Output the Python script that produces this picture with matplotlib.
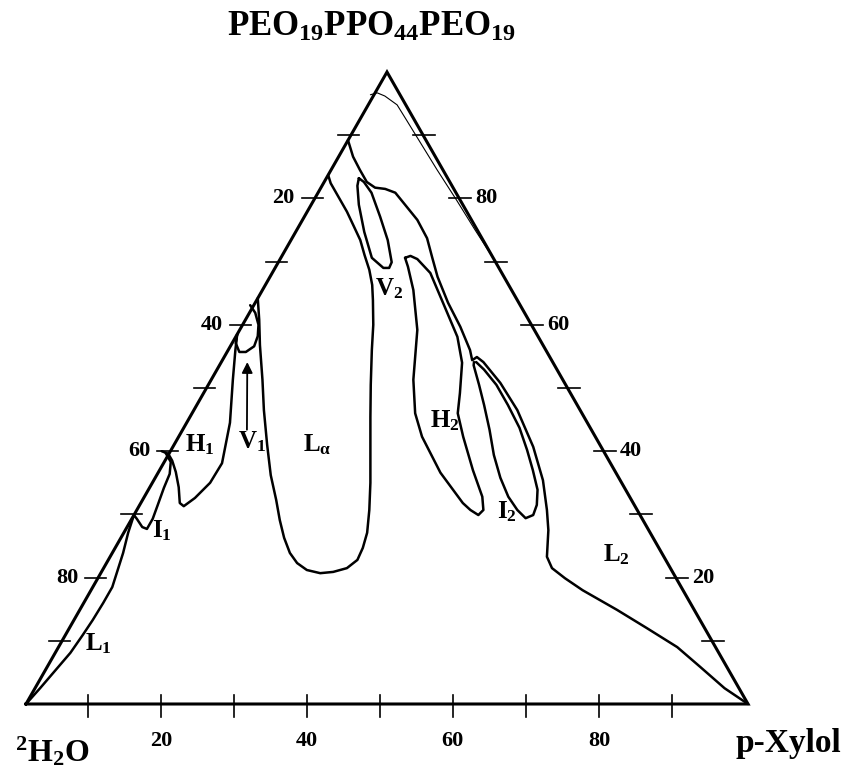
import matplotlib.pyplot as plt

plt.rcParams['font.family'] = ['Liberation Serif', 'DejaVu Serif']
plt.rcParams['font.weight'] = 'bold'
plt.rcParams['mathtext.fontset'] = 'custom'
plt.rcParams['mathtext.rm'] = 'Liberation Serif:bold'
plt.rcParams['mathtext.it'] = 'Liberation Serif:bold'
plt.rcParams['mathtext.bf'] = 'Liberation Serif:bold'

# compositions in wt%: peo = PEO19PPO44PEO19, xyl = p-Xylol, water = rest

# thin line close to the polymer / xylol side
thin_peo = [96.4, 96.7, 96.2, 94.8, 92.4, 89.7, 84.5, 79.7, 75.0, 70.3]
thin_xyl = [-0.5, 0.3, 1.6, 4.0, 6.5, 9.3, 14.7, 19.8, 24.7, 29.7]

# boundary from the polymer side down to the xylol corner (L2 border)
outer_peo = [89.2, 86.6, 84.5, 82.6, 81.7, 81.5, 80.9, 79.0, 76.6, 73.7,
             70.7, 67.6, 63.5, 59.7, 56.0, 54.4, 54.9, 54.1, 50.8, 46.5,
             40.7, 35.4, 30.7, 27.5, 23.3, 21.5, 19.9, 18.0, 14.9, 12.0,
             9.0, 5.9, 2.5, 0.0]
outer_xyl = [0.0, 2.0, 4.0, 5.9, 7.5, 9.0, 10.7, 13.0, 15.9, 18.7,
             20.9, 23.2, 26.7, 30.3, 33.5, 34.6, 35.0, 36.3, 40.3, 44.8,
             49.9, 53.9, 56.8, 58.6, 60.5, 62.1, 64.7, 68.1, 74.4, 80.0,
             85.7, 90.4, 95.5, 100.0]

# I2 loop
i2_peo = [54.1, 53.6, 50.5, 47.3, 43.4, 39.4, 35.8, 32.8, 30.7, 29.4,
          29.9, 31.5, 33.9, 37.0, 40.2, 43.7, 47.3, 50.5, 52.9, 54.1]
i2_xyl = [35.0, 35.2, 37.5, 39.8, 42.5, 45.1, 47.8, 50.4, 52.7, 54.5,
          55.3, 55.0, 53.9, 51.7, 49.3, 46.5, 43.1, 39.9, 37.0, 35.3]

# H2 loop
h2_peo = [70.6, 70.9, 70.4, 68.2, 63.5, 58.1, 54.0, 49.2, 46.0, 42.3,
          37.0, 32.8, 30.7, 29.9, 30.7, 31.8, 36.6, 42.3, 46.0, 51.3,
          59.2, 65.5, 69.2]
h2_xyl = [17.2, 17.8, 19.0, 21.9, 26.0, 30.7, 33.4, 35.5, 36.8, 39.4,
          43.4, 46.8, 48.0, 47.7, 46.2, 44.6, 39.1, 33.7, 30.9, 28.0,
          24.6, 20.9, 18.3]

# V2 loop
v2_peo = [83.2, 82.6, 80.9, 77.1, 73.4, 69.9, 69.0, 69.0, 70.6, 74.7, 79.0, 82.0]
v2_xyl = [4.5, 5.5, 7.4, 10.5, 13.4, 15.7, 15.8, 15.0, 12.6, 9.5, 6.6, 4.9]

# L_alpha region
la_peo = [83.7, 82.4, 81.3, 79.6, 77.9, 75.6, 73.4, 71.0, 68.7, 66.3,
          63.9, 60.0, 56.0, 50.5, 45.4, 40.2, 35.0, 30.7, 27.1, 24.7,
          22.8, 21.5, 20.9, 20.7, 21.2, 22.3, 23.9, 26.3, 29.1, 32.3,
          36.2, 41.0, 46.5, 51.3, 56.8, 60.8, 64.2]
la_xyl = [0.0, 1.0, 2.1, 3.8, 5.5, 7.6, 9.6, 11.4, 13.2, 14.8,
          16.1, 18.1, 19.9, 22.5, 25.0, 27.6, 30.2, 32.2, 33.7, 34.3,
          34.5, 33.7, 32.1, 30.4, 28.3, 26.4, 24.6, 22.6, 20.6, 18.5,
          15.8, 12.9, 9.7, 7.1, 4.0, 1.9, 0.0]

# V1 loop
v1_peo = [63.1, 61.9, 60.0, 58.2, 56.6, 55.7, 55.7, 57.1, 58.5]
v1_xyl = [-0.5, 0.8, 2.2, 3.0, 3.3, 2.6, 1.7, 0.5, 0.0]

# H1 region
h1_peo = [58.5, 56.0, 51.3, 44.5, 38.1, 35.0, 32.6, 31.3, 31.8, 34.3, 36.7, 38.5, 39.6, 40.0]
h1_xyl = [0.0, 1.0, 3.0, 6.0, 8.1, 8.0, 7.1, 6.2, 5.4, 4.0, 2.4, 1.0, -0.1, -1.2]

# I1 and L1 border down to the water corner
il_peo = [39.7, 38.3, 36.4, 34.2, 31.5, 29.3, 27.7, 28.0, 29.3, 29.9,
          27.1, 23.9, 21.2, 18.5, 16.0, 13.3, 10.9, 8.1, 4.9, 2.5, 0.0]
il_xyl = [-0.5, 0.9, 1.7, 2.0, 2.5, 2.9, 2.9, 2.1, 0.7, 0.0,
          0.6, 1.5, 2.1, 2.7, 2.7, 2.6, 2.4, 2.1, 1.3, 0.7, 0.0]

# arrow in V1 (tail, tip)
arrow_peo = [43.4, 54.1]
arrow_xyl = [8.9, 3.6]

# phase labels: text, peo, xyl (left/baseline of the letter)
phase_text = ['H$_1$', 'V$_1$', r'L$_\alpha$', 'V$_2$', 'H$_2$', 'I$_2$', 'L$_2$', 'I$_1$', 'L$_1$']
phase_peo = [40.0, 40.5, 39.9, 64.7, 43.7, 29.4, 22.5, 26.3, 8.5]
phase_xyl = [2.0, 9.1, 18.4, 16.0, 34.1, 50.5, 68.7, 4.3, 3.9]

side_ticks = [10, 20, 30, 40, 50, 60, 70, 80, 90]
left_labels = {80: '20', 60: '40', 40: '60', 20: '80'}     # water %
right_labels = {80: '80', 60: '60', 40: '40', 20: '20'}    # polymer %
bottom_ticks = [8.6, 18.7, 28.8, 38.9, 49.0, 59.1, 69.3, 79.4, 89.5]
bottom_labels = {18.7: '20', 38.9: '40', 59.1: '60', 79.4: '80'}


def tern(peo, xyl):
    X = [(x + p / 2) / 100 for p, x in zip(peo, xyl)]
    Y = [p / 100 for p in peo]
    return X, Y


def curve(peo, xyl, lw=1.8):
    x, y = tern(peo, xyl)
    ax.plot(x, y, color='k', lw=lw, solid_joinstyle='round',
            solid_capstyle='round', clip_on=False)


fig = plt.figure(figsize=(8.5, 7.72), dpi=100)
ax = fig.add_axes([26 / 850, 68 / 772, 722 / 850, 632 / 772])
ax.set_xlim(0, 1)
ax.set_ylim(0, 1)
ax.axis('off')
px = 1 / 722
py = 1 / 632

# triangle
tx, ty = tern([0, 0, 100, 0], [0, 100, 0, 0])
ax.plot(tx, ty, color='k', lw=2.2, solid_joinstyle='miter', clip_on=False)

curve(thin_peo, thin_xyl, lw=0.8)
curve(outer_peo, outer_xyl)
curve(i2_peo, i2_xyl)
curve(h2_peo + h2_peo[:1], h2_xyl + h2_xyl[:1])
curve(v2_peo + v2_peo[:1], v2_xyl + v2_xyl[:1])
curve(la_peo, la_xyl)
curve(v1_peo, v1_xyl)
curve(h1_peo, h1_xyl)
curve(il_peo, il_xyl)

ax_, ay_ = tern(arrow_peo, arrow_xyl)
ax.annotate('', xy=(ax_[1], ay_[1]), xytext=(ax_[0], ay_[0]),
            arrowprops=dict(arrowstyle='-|>', color='k', lw=1.3,
                            mutation_scale=16, shrinkA=0, shrinkB=0))

# ticks and tick labels
for t in side_ticks:
    lx, ly = tern([t], [0])
    ax.plot([lx[0] - 13 * px, lx[0] + 8 * px], [ly[0], ly[0]], color='k', lw=1.2, clip_on=False)
    if t in left_labels:
        ax.text(lx[0] - 20 * px, ly[0], left_labels[t], fontsize=16,
                ha='right', va='center')
    rx, ry = tern([t], [100 - t])
    ax.plot([rx[0] - 10 * px, rx[0] + 12 * px], [ry[0], ry[0]], color='k', lw=1.2, clip_on=False)
    if t in right_labels:
        ax.text(rx[0] + 16 * px, ry[0], right_labels[t], fontsize=16,
                ha='left', va='center')

for t in bottom_ticks:
    bx, by = tern([0], [t])
    ax.plot([bx[0], bx[0]], [9 * py, -13 * py], color='k', lw=1.2, clip_on=False)
    if t in bottom_labels:
        ax.text(bx[0], -42 * py, bottom_labels[t], fontsize=16,
                ha='center', va='baseline')

for s, p, xx in zip(phase_text, phase_peo, phase_xyl):
    lx, ly = tern([p], [xx])
    ax.text(lx[0], ly[0], s, fontsize=18, ha='left', va='baseline')

fig.text(371 / 850, 1 - 36 / 772, 'PEO$_{19}$PPO$_{44}$PEO$_{19}$', fontsize=25,
         ha='center', va='baseline')
fig.text(15 / 850, 1 - 762 / 772, '$^2$H$_2$O', fontsize=23, ha='left', va='baseline')
fig.text(735 / 850, 1 - 752 / 772, 'p-Xylol', fontsize=24, ha='left', va='baseline')

fig.savefig('out.png', dpi=100)
